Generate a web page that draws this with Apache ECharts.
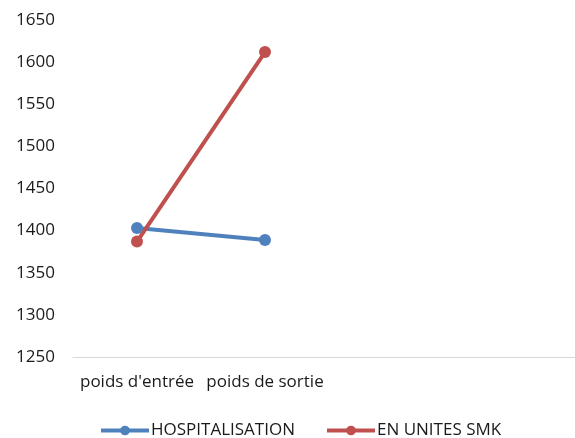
<!DOCTYPE html>
<html>
<head>
<meta charset="utf-8">
<script src="https://cdn.jsdelivr.net/npm/echarts@6/dist/echarts.min.js"></script>
<style>
  html, body { margin: 0; padding: 0; background: #fff; }
  #chart { width: 575px; height: 438px; }
</style>
</head>
<body>
<div id="chart"></div>
<script>
// Weight at admission / discharge, by care setting
const categories = ["poids d'entrée", "poids de sortie", "", ""];
const hospitalisation = [1403, 1389, null, null];
const unitesSmk = [1387, 1612, null, null];
const yTicks = { min: 1250, max: 1650, interval: 50 };

const FONT = "'Open Sans', 'Liberation Sans', sans-serif";
const BLUE = '#4F81BD';
const RED = '#C0504D';

const chart = echarts.init(document.getElementById('chart'), null, { renderer: 'canvas' });
chart.setOption({
  animation: false,
  backgroundColor: '#ffffff',
  grid: { left: 73, width: 512, top: 20, bottom: 81, containLabel: false, outerBoundsMode: 'none' },
  xAxis: {
    type: 'category',
    data: categories,
    boundaryGap: true,
    axisLine: { lineStyle: { color: '#d9d9d9', width: 1 } },
    axisTick: { show: false },
    axisLabel: { color: '#1a1a1a', fontFamily: FONT, fontSize: 17, margin: 17, interval: 0 }
  },
  yAxis: {
    type: 'value',
    min: yTicks.min,
    max: yTicks.max,
    interval: yTicks.interval,
    axisLine: { show: false },
    axisTick: { show: false },
    splitLine: { show: false },
    axisLabel: { color: '#1a1a1a', fontFamily: FONT, fontSize: 17, margin: 18, formatter: v => String(v) }
  },
  legend: {
    top: 417,
    left: 94,
    itemWidth: 48,
    itemHeight: 12,
    itemGap: 30,
    lineStyle: { width: 4 },
    textStyle: { color: '#1a1a1a', fontFamily: FONT, fontSize: 17, padding: [0, 0, 0, -3] },
    data: ['HOSPITALISATION', 'EN UNITES SMK']
  },
  series: [
    {
      name: 'HOSPITALISATION',
      type: 'line',
      data: hospitalisation,
      color: BLUE,
      symbol: 'circle',
      symbolSize: 12,
      lineStyle: { width: 4, color: BLUE },
      itemStyle: { color: BLUE }
    },
    {
      name: 'EN UNITES SMK',
      type: 'line',
      data: unitesSmk,
      color: RED,
      symbol: 'circle',
      symbolSize: 12,
      lineStyle: { width: 4, color: RED },
      itemStyle: { color: RED }
    }
  ]
});
</script>
</body>
</html>
